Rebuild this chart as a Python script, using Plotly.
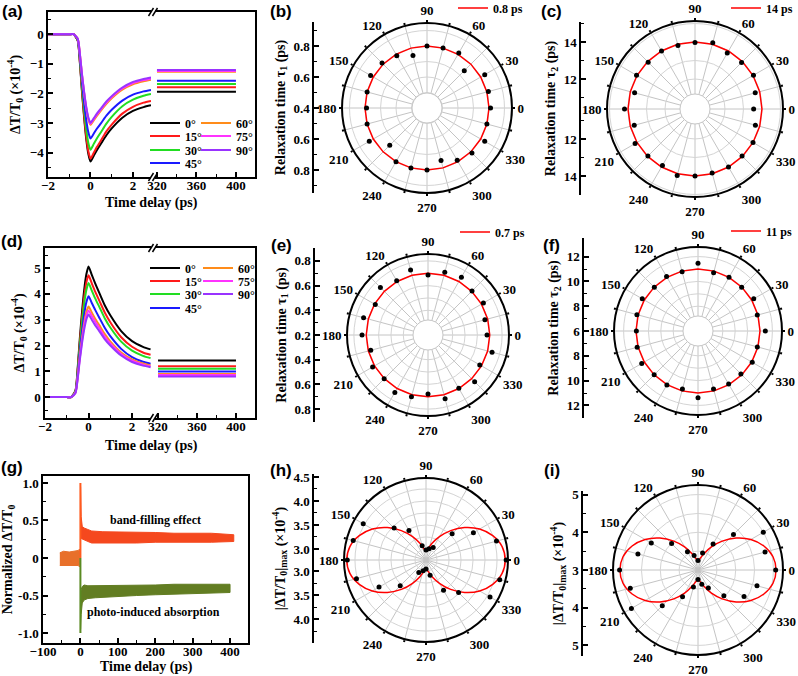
import plotly.graph_objects as go

W, H = 798, 676
def px(x): return x / W
def py(y): return 1 - y / H

FONT = "Liberation Serif"
SANS = "Liberation Sans"

# ---------------- (a) and (d): transient curves ----------------
angle_labels = ["0°", "15°", "30°", "45°", "60°", "75°", "90°"]
angle_colors = ["#000000", "#ff1a1a", "#22dd22", "#1a1aff", "#ff8c1a", "#ff33ff", "#9933ff"]
t_short = [-2, -1.5, -1, -0.8, -0.6, -0.5, -0.4, -0.3, -0.2, -0.1, 0,
           0.15, 0.3, 0.5, 0.75, 1, 1.5, 2, 2.5, 2.85]
t_long = [320, 400]

a_0 = [0, 0, 0, 0, -0.22, -0.95, -1.94, -2.80, -3.53, -4.04, -4.30, -4.11, -3.92, -3.69, -3.41, -3.18, -2.82, -2.59, -2.46, -2.40]
a_15 = [0, 0, 0, 0, -0.21, -0.92, -1.89, -2.73, -3.44, -3.95, -4.20, -4.01, -3.81, -3.58, -3.28, -3.05, -2.68, -2.45, -2.31, -2.25]
a_30 = [0, 0, 0, 0, -0.20, -0.86, -1.76, -2.54, -3.20, -3.67, -3.90, -3.71, -3.52, -3.30, -3.02, -2.79, -2.43, -2.21, -2.08, -2.02]
a_45 = [0, 0, 0, 0, -0.18, -0.77, -1.58, -2.29, -2.89, -3.31, -3.52, -3.36, -3.19, -3.00, -2.75, -2.55, -2.24, -2.04, -1.93, -1.88]
a_60 = [0, 0, 0, 0, -0.15, -0.67, -1.38, -1.99, -2.51, -2.88, -3.06, -2.91, -2.76, -2.57, -2.35, -2.16, -1.87, -1.69, -1.59, -1.54]
a_75 = [0, 0, 0, 0, -0.15, -0.66, -1.36, -1.96, -2.48, -2.84, -3.02, -2.87, -2.72, -2.53, -2.31, -2.12, -1.83, -1.65, -1.55, -1.50]
a_90 = [0, 0, 0, 0, -0.15, -0.66, -1.35, -1.94, -2.45, -2.81, -2.99, -2.84, -2.68, -2.50, -2.27, -2.09, -1.80, -1.61, -1.51, -1.46]
a_long_level = [-1.94, -1.79, -1.68, -1.57, -1.27, -1.24, -1.21]

d_0 = [0, 0, 0, 0, 0.25, 1.11, 2.28, 3.29, 4.15, 4.76, 5.06, 4.74, 4.42, 4.03, 3.55, 3.17, 2.56, 2.17, 1.95, 1.85]
d_15 = [0, 0, 0, 0, 0.24, 1.04, 2.12, 3.07, 3.87, 4.44, 4.72, 4.41, 4.10, 3.73, 3.27, 2.90, 2.32, 1.95, 1.73, 1.64]
d_30 = [0, 0, 0, 0, 0.22, 0.97, 1.99, 2.87, 3.62, 4.15, 4.42, 4.13, 3.84, 3.49, 3.05, 2.70, 2.15, 1.80, 1.60, 1.51]
d_45 = [0, 0, 0, 0, 0.20, 0.86, 1.76, 2.54, 3.21, 3.68, 3.91, 3.65, 3.39, 3.07, 2.68, 2.36, 1.87, 1.55, 1.37, 1.29]
d_60 = [0, 0, 0, 0, 0.18, 0.77, 1.58, 2.28, 2.88, 3.30, 3.51, 3.28, 3.05, 2.78, 2.44, 2.16, 1.73, 1.46, 1.30, 1.23]
d_75 = [0, 0, 0, 0, 0.17, 0.74, 1.51, 2.18, 2.76, 3.16, 3.36, 3.14, 2.93, 2.67, 2.34, 2.08, 1.67, 1.41, 1.26, 1.19]
d_90 = [0, 0, 0, 0, 0.16, 0.70, 1.44, 2.08, 2.62, 3.01, 3.20, 3.00, 2.79, 2.55, 2.24, 2.00, 1.61, 1.36, 1.22, 1.16]
d_long_level = [1.42, 1.20, 1.10, 0.99, 0.90, 0.86, 0.80]

a_curves = [a_0, a_15, a_30, a_45, a_60, a_75, a_90]
d_curves = [d_0, d_15, d_30, d_45, d_60, d_75, d_90]

# ---------------- (g): normalized transients (band envelopes) ----------------
g_pre_t = [-55, -45, -30, -15, -6, -2]
g_pre_hi = [0.07, 0.09, 0.08, 0.09, 0.10, 0.12]
g_pre_lo = [-0.10, -0.10, -0.10, -0.10, -0.10, -0.12]
g_bf_t = [0.5, 2, 5, 10, 20, 30, 60, 100, 150, 200, 250, 300, 350, 410]
g_bf_hi = [0.95, 0.55, 0.42, 0.40, 0.38, 0.36, 0.35, 0.35, 0.34, 0.34, 0.33, 0.33, 0.33, 0.31]
g_bf_lo = [0.30, 0.26, 0.25, 0.24, 0.22, 0.20, 0.20, 0.20, 0.20, 0.21, 0.21, 0.21, 0.21, 0.22]
g_pia_t = [0.5, 2, 5, 10, 20, 40, 70, 100, 150, 200, 250, 300, 350, 400]
g_pia_hi = [-0.50, -0.42, -0.38, -0.36, -0.37, -0.37, -0.36, -0.36, -0.36, -0.36, -0.35, -0.35, -0.35, -0.35]
g_pia_lo = [-0.95, -0.75, -0.60, -0.56, -0.54, -0.53, -0.52, -0.51, -0.50, -0.49, -0.48, -0.48, -0.47, -0.46]
g_spike_t = [0, 0]
g_spike_up = [0, 1.0]
g_spike_down = [0, -1.0]

# ---------------- polar data ----------------
theta_pts = [0, 15, 30, 45, 60, 75, 90, 105, 120, 135, 150, 165,
             180, 195, 210, 225, 240, 255, 270, 285, 300, 315, 330, 345]
b_tau1 = [0.81, 0.81, 0.83, 0.74, 0.81, 0.80, 0.80, 0.75, 0.79, 0.81, 0.82, 0.80,
          0.79, 0.80, 0.83, 0.74, 0.80, 0.80, 0.80, 0.75, 0.79, 0.81, 0.83, 0.80]
c_tau2 = [13.55, 13.75, 14.03, 13.94, 13.87, 14.09, 13.98, 13.94, 14.0, 13.96, 14.03, 13.76,
          14.19, 13.78, 14.12, 13.98, 13.9, 14.1, 14.0, 13.96, 14.0, 13.98, 14.0, 13.76]
e_tau1 = [0.678, 0.677, 0.718, 0.704, 0.741, 0.725, 0.686, 0.745, 0.707, 0.745, 0.693, 0.74,
          0.734, 0.68, 0.718, 0.702, 0.737, 0.718, 0.678, 0.735, 0.699, 0.734, 0.684, 0.737]
f_tau2 = [11.43, 10.95, 11.19, 10.98, 11.0, 10.86, 11.46, 10.95, 11.07, 10.98, 11.19, 11.1,
          10.97, 11.08, 11.24, 11.0, 11.02, 10.85, 11.38, 10.84, 10.94, 10.89, 11.05, 10.95]
h_amp = [4.44, 4.29, 3.91, 3.54, 3.07, 3.01, 2.98, 3.08, 3.48, 3.71, 4.28, 4.34,
         4.41, 4.27, 3.90, 3.53, 3.07, 3.00, 2.96, 3.10, 3.50, 3.73, 4.31, 4.36]
i_amp = [5.06, 4.84, 5.00, 4.33, 3.80, 3.47, 3.25, 3.40, 3.56, 3.99, 4.43, 4.65,
         5.08, 4.86, 5.04, 4.34, 3.82, 3.47, 3.25, 3.39, 3.55, 3.97, 4.41, 4.62]

theta_fit_poly = [0, 15, 30, 45, 60, 75, 90, 105, 120, 135, 150, 165, 180,
                  195, 210, 225, 240, 255, 270, 285, 300, 315, 330, 345, 360]
b_fit_value = 0.8
c_fit_value = 14
e_fit_value = 0.7
f_fit_value = 11
theta_fit_curve = [0, 10, 20, 30, 40, 50, 60, 70, 80, 90, 100, 110, 120, 130, 140, 150, 160, 170, 180,
                   190, 200, 210, 220, 230, 240, 250, 260, 270, 280, 290, 300, 310, 320, 330, 340, 350, 360]
h_fit = [4.42, 4.38, 4.25, 4.06, 3.82, 3.57, 3.33, 3.14, 3.01, 2.97, 3.01, 3.14, 3.33, 3.57, 3.82, 4.06, 4.25, 4.38, 4.42,
         4.38, 4.25, 4.06, 3.82, 3.57, 3.33, 3.14, 3.01, 2.97, 3.01, 3.14, 3.33, 3.57, 3.82, 4.06, 4.25, 4.38, 4.42]
i_fit = [5.07, 5.02, 4.86, 4.62, 4.32, 4.00, 3.71, 3.46, 3.31, 3.25, 3.31, 3.46, 3.71, 4.00, 4.32, 4.62, 4.86, 5.02, 5.07,
         5.02, 4.86, 4.62, 4.32, 4.00, 3.71, 3.46, 3.31, 3.25, 3.31, 3.46, 3.71, 4.00, 4.32, 4.62, 4.86, 5.02, 5.07]
angle_grid = [0, 15, 30, 45, 60, 75, 90, 105, 120, 135, 150, 165,
              180, 195, 210, 225, 240, 255, 270, 285, 300, 315, 330, 345]
angle_grid_text = [str(a) if a % 30 == 0 else "" for a in angle_grid]

# ---------------- figure ----------------
fig = go.Figure()
TICKF = dict(family=FONT, size=13, color="black", weight="bold")
TITLEF = dict(family=FONT, size=14, color="black", weight="bold")

def cart_axis(**kw):
    base = dict(showline=True, linecolor="black", linewidth=1.5, ticks="inside", ticklen=5,
                tickwidth=1.5, tickcolor="black", showgrid=False, zeroline=False,
                tickfont=TICKF, title_font=TITLEF, automargin=False)
    base.update(kw)
    return base

def minor(**kw):
    d = dict(ticks="inside", ticklen=3, tickcolor="black", tickwidth=1)
    d.update(kw)
    return d

def legend_id(n):
    return "legend" if n == 1 else f"legend{n}"

# (a): one single-entry legend per item (two columns, column-major like the reference)
for i in range(7):
    fig.add_trace(go.Scatter(x=t_short, y=a_curves[i], mode="lines", name=angle_labels[i],
                             line=dict(color=angle_colors[i], width=2, shape="spline", smoothing=0.6),
                             xaxis="x", yaxis="y", legend=legend_id(1 + i)))
    fig.add_trace(go.Scatter(x=t_long, y=[a_long_level[i]] * 2, mode="lines", showlegend=False,
                             line=dict(color=angle_colors[i], width=2), xaxis="x2", yaxis="y2"))
# (d)
for i in range(7):
    fig.add_trace(go.Scatter(x=t_short, y=d_curves[i], mode="lines", name=angle_labels[i],
                             line=dict(color=angle_colors[i], width=2, shape="spline", smoothing=0.6),
                             xaxis="x3", yaxis="y3", legend=legend_id(8 + i)))
    fig.add_trace(go.Scatter(x=t_long, y=[d_long_level[i]] * 2, mode="lines", showlegend=False,
                             line=dict(color=angle_colors[i], width=2), xaxis="x4", yaxis="y4"))

# (g)
def band(t, hi, lo, color):
    return go.Scatter(x=t + t[::-1], y=hi + lo[::-1], fill="toself", fillcolor=color,
                      mode="lines", line=dict(color=color, width=1), showlegend=False,
                      xaxis="x5", yaxis="y5", hoverinfo="skip")
fig.add_trace(band(g_pre_t, g_pre_hi, g_pre_lo, "#e8702a"))
fig.add_trace(band(g_bf_t, g_bf_hi, g_bf_lo, "#f5481e"))
fig.add_trace(band(g_pia_t, g_pia_hi, g_pia_lo, "#627d22"))
fig.add_trace(go.Scatter(x=g_spike_t, y=g_spike_up, mode="lines", line=dict(color="#ff5a1e", width=2),
                         showlegend=False, xaxis="x5", yaxis="y5"))
fig.add_trace(go.Scatter(x=g_spike_t, y=g_spike_down, mode="lines", line=dict(color="#5a8a22", width=2),
                         showlegend=False, xaxis="x5", yaxis="y5"))

# polar panels
polar_specs = [
    # name, cx, cy, R, c0, scale(px/unit), hole_px, pts, fit_theta, fit_r, fit_label, legend, grid
    ("polar", 427, 108, 85, 0.4, 155, 15, b_tau1, theta_fit_poly, [b_fit_value] * 25, "0.8 ps", 15,
     [0.5, 0.6, 0.7, 0.8, 0.9]),
    ("polar2", 695, 109, 88, 10.38, 18.5, 15, c_tau2, theta_fit_poly, [c_fit_value] * 25, "14 ps", 16,
     [11, 12, 13, 14, 15]),
    ("polar3", 428, 335, 81, 0.2, 123.5, 15, e_tau1, theta_fit_poly, [e_fit_value] * 25, "0.7 ps", 17,
     [0.3, 0.4, 0.5, 0.6, 0.7, 0.8]),
    ("polar4", 698, 331, 84, 6, 12.4, 15, f_tau2, theta_fit_poly, [f_fit_value] * 25, "11 ps", 18,
     [7, 8, 9, 10, 11, 12]),
    ("polar5", 426, 560, 82, 2.77, 48, 0, h_amp, theta_fit_curve, h_fit, None, None,
     [3.0, 3.25, 3.5, 3.75, 4.0, 4.25]),
    ("polar6", 698, 570, 85, 3.0, 37.7, 0, i_amp, theta_fit_curve, i_fit, None, None,
     [3.5, 4.0, 4.5, 5.0]),
]
polar_layouts = {}
for (name, cx, cy, R, c0, sc, hole_px, pts, fth, fr, flabel, leg_n, grid) in polar_specs:
    if hole_px:
        # white centre disc (the blank core of the polar frame)
        fig.add_trace(go.Scatterpolar(r=[c0 + hole_px / sc] * len(theta_fit_poly), theta=theta_fit_poly,
                                      mode="lines", fill="toself", fillcolor="white", subplot=name,
                                      line=dict(color="#c4c4c4", width=1), showlegend=False,
                                      hoverinfo="skip"))
    fig.add_trace(go.Scatterpolar(r=fr, theta=fth, mode="lines", subplot=name,
                                  line=dict(color="#ff0000", width=1.5,
                                            shape="spline" if flabel is None else "linear"),
                                  name=flabel if flabel else "fit", showlegend=flabel is not None,
                                  legend=legend_id(leg_n) if leg_n else "legend"))
    fig.add_trace(go.Scatterpolar(r=pts, theta=theta_pts, mode="markers", subplot=name,
                                  marker=dict(color="black", size=5), showlegend=False))
    polar_layouts[name] = dict(
        domain=dict(x=[px(cx - R), px(cx + R)], y=[py(cy + R), py(cy - R)]),
        hole=0, bgcolor="white",
        radialaxis=dict(range=[c0, c0 + R / sc], tickvals=grid, showticklabels=False, ticks="",
                        showline=False, gridcolor="#d4d4d4", gridwidth=1),
        angularaxis=dict(rotation=0, direction="counterclockwise", tickmode="array",
                         tickvals=angle_grid, ticktext=angle_grid_text,
                         showline=True, linecolor="black", linewidth=2, gridcolor="#c4c4c4", gridwidth=1,
                         ticks="outside", ticklen=2, tickwidth=1.5, tickcolor="black",
                         tickfont=TICKF),
    )

# left linear axes for the polar plots
left_specs = [
    # x, top, bottom, cy, c0, scale, [(value, label, side)], minor values, title
    (314, 22, 193, 108, 0.4, 155,
     [(0.8, "0.8", 1), (0.6, "0.6", 1), (0.4, "0.4", 0), (0.6, "0.6", -1), (0.8, "0.8", -1)],
     [0.5, 0.7, 0.9], "Relaxation time τ<sub>1</sub> (ps)"),
    (581, 22, 195, 109, 10.38, 18.5,
     [(14, "14", 1), (12, "12", 1), (12, "12", -1), (14, "14", -1)],
     [11, 13, 15], "Relaxation time τ<sub>2</sub> (ps)"),
    (315, 248, 422, 335, 0.2, 123.5,
     [(0.8, "0.8", 1), (0.6, "0.6", 1), (0.4, "0.4", 1), (0.2, "0.2", 0), (0.4, "0.4", -1),
      (0.6, "0.6", -1), (0.8, "0.8", -1)],
     [0.3, 0.5, 0.7], "Relaxation time τ<sub>1</sub> (ps)"),
    (584, 238, 418, 331, 6, 12.4,
     [(12, "12", 1), (10, "10", 1), (8, "8", 1), (6, "6", 0), (8, "8", -1), (10, "10", -1), (12, "12", -1)],
     [7, 9, 11], "Relaxation time τ<sub>2</sub> (ps)"),
    (314, 474, 643, 560, 2.77, 48,
     [(4.5, "4.5", 1), (4.0, "4.0", 1), (3.5, "3.5", 1), (3.0, "3.0", 1), (3.0, "3.0", -1),
      (3.5, "3.5", -1), (4.0, "4.0", -1), (4.5, "4.5", -1)],
     [3.25, 3.75, 4.25], "|ΔT/T<sub>0</sub>|<sub>max</sub> (×10<sup>-4</sup>)"),
    (583, 491, 656, 570, 3.0, 37.7,
     [(5, "5", 1), (4, "4", 1), (3, "3", 0), (4, "4", -1), (5, "5", -1)],
     [3.5, 4.5], "|ΔT/T<sub>0</sub>|<sub>max</sub> (×10<sup>-4</sup>)"),
]
axes_layout = {}
for k, (x0, top, bot, cy, c0, sc, majors, minors, title) in enumerate(left_specs):
    n = 6 + k
    fig.add_trace(go.Scatter(x=[None], y=[None], xaxis=f"x{n}", yaxis=f"y{n}", showlegend=False))
    tv = [s * (v - c0) for v, lab, s in majors]
    tt = [lab for v, lab, s in majors]
    mv = []
    for m in minors:
        mv += [m - c0, -(m - c0)]
    axes_layout[f"xaxis{n}"] = dict(domain=[px(x0), px(x0) + 0.002], visible=False, range=[0, 1],
                                    anchor=f"y{n}")
    axes_layout[f"yaxis{n}"] = cart_axis(domain=[py(bot), py(top)], anchor=f"x{n}",
                                         range=[-(bot - cy) / sc, (cy - top) / sc],
                                         tickvals=tv, ticktext=tt, ticklen=5,
                                         minor=minor(tickvals=mv),
                                         title=dict(text=title, standoff=5))

XLAB_SHIFT = -4
layout_axes = dict(
    # (a)
    xaxis=cart_axis(domain=[px(48), px(151)], range=[-2, 2.85], anchor="y", mirror=True,
                    tickvals=[-2, 0, 2], minor=minor(tickvals=[-1, 1]), ticklabelstandoff=XLAB_SHIFT),
    xaxis2=cart_axis(domain=[px(155), px(255)], range=[318, 419.3], anchor="y2", mirror=True,
                     tickvals=[320, 360, 400], minor=minor(tickvals=[340, 380]), ticklabelstandoff=XLAB_SHIFT),
    yaxis=cart_axis(domain=[py(177), py(12)], range=[-4.82, 0.75], anchor="x",
                    tickvals=[0, -1, -2, -3, -4], minor=minor(dtick=0.5),
                    title=dict(text="ΔT/T<sub>0</sub> (×10<sup>-4</sup>)", standoff=6)),
    yaxis2=cart_axis(domain=[py(177), py(12)], range=[-4.82, 0.75], anchor="x2", side="right",
                     ticks="", showticklabels=False),
    # (d)
    xaxis3=cart_axis(domain=[px(45), px(151)], range=[-2, 2.87], anchor="y3", mirror=True,
                     tickvals=[-2, 0, 2], minor=minor(tickvals=[-1, 1]), ticklabelstandoff=XLAB_SHIFT),
    xaxis4=cart_axis(domain=[px(155), px(255)], range=[316.9, 419.5], anchor="y4", mirror=True,
                     tickvals=[320, 360, 400], minor=minor(tickvals=[340, 380]), ticklabelstandoff=XLAB_SHIFT),
    yaxis3=cart_axis(domain=[py(418), py(248)], range=[-0.81, 5.78], anchor="x3",
                     tickvals=[0, 1, 2, 3, 4, 5], minor=minor(dtick=0.5),
                     title=dict(text="ΔT/T<sub>0</sub> (×10<sup>-4</sup>)", standoff=6)),
    yaxis4=cart_axis(domain=[py(418), py(248)], range=[-0.81, 5.78], anchor="x4", side="right",
                     ticks="", showticklabels=False),
    # (g)
    xaxis5=cart_axis(domain=[px(43), px(248)], range=[-100, 448], anchor="y5", mirror=True,
                     tickvals=[-100, 0, 100, 200, 300, 400],
                     minor=minor(tickvals=[-50, 50, 150, 250, 350]), ticklabelstandoff=XLAB_SHIFT),
    yaxis5=cart_axis(domain=[py(643), py(476)], range=[-1.133, 1.093], anchor="x5", mirror=True,
                     tickvals=[-1, -0.5, 0, 0.5, 1], ticktext=["-1.0", "-0.5", "0", "0.5", "1.0"],
                     minor=minor(tickvals=[-0.75, -0.25, 0.25, 0.75]),
                     title=dict(text="Normalized ΔT/T<sub>0</sub>", standoff=4)),
)

LEGF = dict(family=FONT, size=12, color="black", weight="bold")
def leg(x, y):
    return dict(x=px(x), y=py(y), xanchor="left", yanchor="middle", bgcolor="rgba(0,0,0,0)",
                font=LEGF, tracegroupgap=0, itemwidth=30)

legends = {}
a_cells = [(145, 123), (145, 136), (145, 150), (145, 163), (196, 123), (196, 136), (196, 150)]
d_cells = [(145, 268), (145, 281), (145, 294), (145, 308), (198, 268), (198, 281), (198, 294)]
for i in range(7):
    legends[legend_id(1 + i)] = leg(*a_cells[i])
    legends[legend_id(8 + i)] = leg(*d_cells[i])
legends[legend_id(15)] = leg(453, 8)
legends[legend_id(16)] = leg(726, 8)
legends[legend_id(17)] = leg(455, 232)
legends[legend_id(18)] = leg(726, 231)

annotations = []
for lab, x, y in [("(a)", 12, 12), ("(b)", 281, 12), ("(c)", 551, 12), ("(d)", 12, 242), ("(e)", 281, 246),
                  ("(f)", 551, 245), ("(g)", 12, 467), ("(h)", 281, 470), ("(i)", 552, 470)]:
    annotations.append(dict(text=lab, x=px(x), y=py(y), xref="paper", yref="paper", showarrow=False,
                            xanchor="center", yanchor="middle",
                            font=dict(family=SANS, size=17, color="black", weight="bold")))
for x, y in ((151, 203), (151, 446), (146, 667)):
    annotations.append(dict(text="Time delay (ps)", x=px(x), y=py(y), xref="paper", yref="paper",
                            xanchor="center", yanchor="middle", showarrow=False, font=TITLEF))
annotations.append(dict(text="band-filling effect", x=200, y=0.5, xref="x5", yref="y5", showarrow=False,
                        font=dict(family=FONT, size=12, color="black", weight="bold")))
annotations.append(dict(text="photo-induced absorption", x=195, y=-0.72, xref="x5", yref="y5", showarrow=False,
                        font=dict(family=FONT, size=12, color="black", weight="bold")))

shapes = []
for (yt, yb) in [(12, 177), (248, 418)]:
    for yy in (yt, yb):
        for xx in (151, 155):
            shapes.append(dict(type="line", xref="paper", yref="paper", x0=px(xx - 2.5), y0=py(yy + 4),
                               x1=px(xx + 2.5), y1=py(yy - 4), line=dict(color="black", width=1.5)))

fig.update_layout(
    width=W, height=H, margin=dict(l=0, r=0, t=0, b=0, autoexpand=False),
    paper_bgcolor="white", plot_bgcolor="white",
    font=dict(family=FONT, size=13, color="black", weight="bold"),
    annotations=annotations, shapes=shapes,
    **legends, **layout_axes, **axes_layout, **polar_layouts,
)

fig.write_html("out.html", config={"displayModeBar": False},
               post_script="document.body.style.margin='0';document.body.style.overflow='hidden';")
